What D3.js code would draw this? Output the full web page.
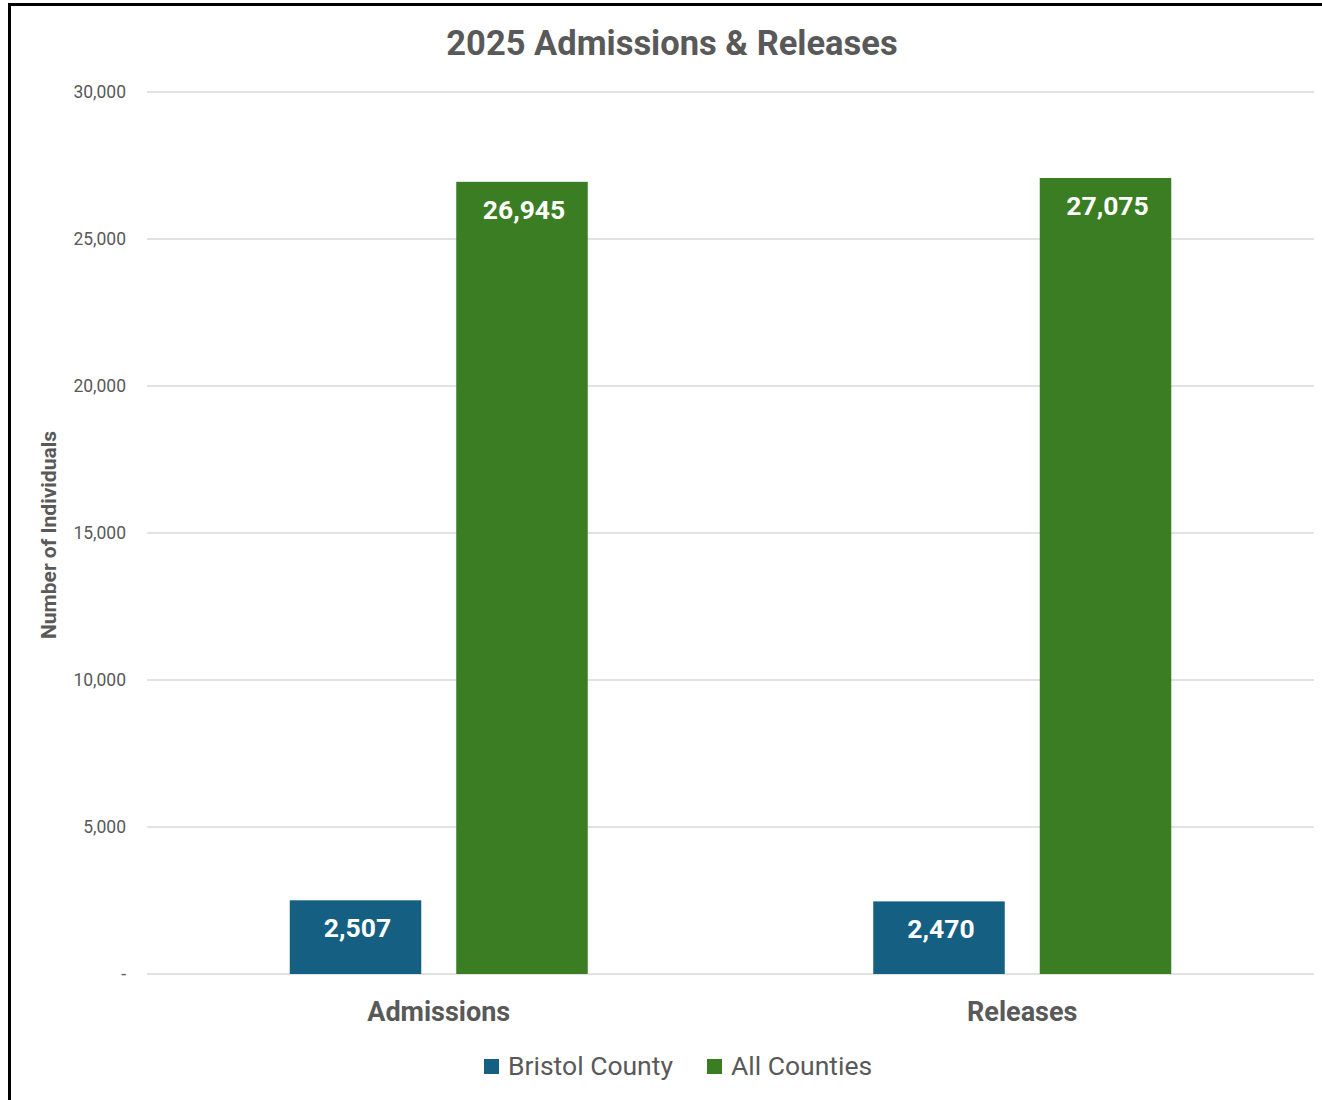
<!DOCTYPE html>
<html><head><meta charset="utf-8">
<script src="https://cdn.jsdelivr.net/npm/d3@7"></script>
<style>
html,body{margin:0;padding:0;background:#fff;}
svg{display:block;}
</style></head>
<body>
<svg id="chart" width="1322" height="1100"></svg>
<script>
const categories = ["Admissions", "Releases"];
const seriesNames = ["Bristol County", "All Counties"];
const bristolValues = [2507, 2470];
const allCountiesValues = [26945, 27075];
const yTicks = [0, 5000, 10000, 15000, 20000, 25000, 30000];
const titleText = "2025 Admissions & Releases";
const yAxisTitle = "Number of Individuals";

const colors = ["#156082", "#3A7D22"];
const FONT = "Roboto, 'Open Sans', sans-serif";
const svg = d3.select("#chart");
const W = 1322, H = 1100;
const m = {left:147, right:8, top:92, bottom:126};

svg.append("rect").attr("x",0).attr("y",0).attr("width",W).attr("height",H).attr("fill","#fff");
// frame
svg.append("rect").attr("x",9.5).attr("y",4.5).attr("width",W).attr("height",H).attr("fill","none").attr("stroke","#000").attr("stroke-width",3);

const x0 = d3.scaleBand().domain(categories).range([m.left, W - m.right]).paddingInner(0).paddingOuter(0);
const y = d3.scaleLinear().domain([0, 30000]).range([H - m.bottom, m.top]);

const yAxis = d3.axisLeft(y).tickValues(yTicks).tickSize(0).tickPadding(21)
  .tickFormat(d => d === 0 ? "-" : d3.format(",")(d));
const ga = svg.append("g").attr("transform", `translate(${m.left},0)`).call(yAxis);
ga.select(".domain").remove();
ga.selectAll("text").attr("fill","#595959").attr("font-size","17.5px").attr("font-family",FONT);
svg.append("g").selectAll("line").data(yTicks).join("line")
  .attr("x1", m.left).attr("x2", W - m.right)
  .attr("y1", d => y(d)).attr("y2", d => y(d))
  .attr("stroke", "#d9d9d9").attr("stroke-width", 1.5);

const data = categories.map((c,i)=>({cat:c, vals:[bristolValues[i], allCountiesValues[i]]}));
const barW = 131.5, gap = 35;
const x1 = d3.scaleOrdinal().domain([0,1]).range([-(gap/2 + barW), gap/2]);

const g = svg.append("g");
data.forEach(d => {
  const cx = x0(d.cat) + x0.bandwidth()/2;
  d.vals.forEach((v,j) => {
    const bx = cx + x1(j);
    g.append("rect").attr("x", bx).attr("y", y(v)).attr("width", barW).attr("height", y(0) - y(v))
      .attr("fill", colors[j]);
    g.append("text").attr("x", bx + barW/2 + 2).attr("y", y(v) + 37)
      .attr("text-anchor","middle").attr("fill","#fff").attr("font-weight","bold")
      .attr("font-size","26.5px").attr("font-family",FONT).text(d3.format(",")(v));
  });
  svg.append("text").attr("x", cx).attr("y", 1021).attr("text-anchor","middle")
    .attr("fill","#595959").attr("font-weight","bold").attr("font-size","27px").attr("font-family",FONT)
    .text(d.cat);
});

svg.append("text").attr("x", 672).attr("y", 55).attr("text-anchor","middle")
  .attr("fill","#595959").attr("font-weight","bold").attr("font-size","34.5px").attr("font-family",FONT)
  .text(titleText);

svg.append("text").attr("transform","translate(56,535) rotate(-90)").attr("text-anchor","middle")
  .attr("fill","#595959").attr("font-weight","bold").attr("font-size","21px").attr("font-family",FONT)
  .text(yAxisTitle);

const legendX = [484, 707];
seriesNames.forEach((s,i) => {
  svg.append("rect").attr("x", legendX[i]).attr("y", 1059).attr("width",15).attr("height",15).attr("fill",colors[i]);
  svg.append("text").attr("x", legendX[i] + 24).attr("y", 1075).attr("fill","#595959")
    .attr("font-size","26.5px").attr("font-family",FONT).text(s);
});
</script>
</body></html>
